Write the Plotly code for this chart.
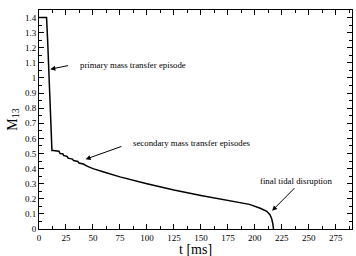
import plotly.graph_objects as go

# ---- data ----
t_ms = [0, 7, 8, 9, 10.5, 12, 13, 18.5, 19.5, 22, 23, 26, 27, 31, 32, 36, 37, 41,
        45, 50, 60, 75, 100, 125, 150, 175, 195, 205, 211, 214, 215.5, 216.5, 217.3]
m13 = [1.4, 1.4, 1.25, 1.05, 0.72, 0.52, 0.52, 0.515, 0.50, 0.498, 0.486, 0.481,
       0.469, 0.463, 0.453, 0.447, 0.437, 0.43, 0.415, 0.40, 0.377, 0.345, 0.30,
       0.258, 0.222, 0.192, 0.163, 0.137, 0.117, 0.095, 0.07, 0.04, 0.0]

x_ticks = [0, 25, 50, 75, 100, 125, 150, 175, 200, 225, 250, 275]
y_ticks = [0, 0.1, 0.2, 0.3, 0.4, 0.5, 0.6, 0.7, 0.8, 0.9, 1.0, 1.1, 1.2, 1.3, 1.4]
y_tick_text = ["0", "0.1", "0.2", "0.3", "0.4", "0.5", "0.6", "0.7", "0.8", "0.9",
               "1", "1.1", "1.2", "1.3", "1.4"]

x_title = "t [ms]"
y_title = "M<sub>13</sub>"

notes = ["primary mass transfer episode", "secondary mass transfer episodes",
         "final tidal disruption"]
note_pos = [(36, 1.086), (85.5, 0.568), (202.5, 0.32)]
arrow_head = [(10.5, 1.058), (43.2, 0.462), (216, 0.121)]
arrow_tail = [(28.4, 1.084), (77.7, 0.55), (238, 0.28)]

SERIF = "Liberation Serif, Times New Roman, serif"

fig = go.Figure()
fig.add_trace(go.Scatter(x=t_ms, y=m13, mode="lines",
                         line=dict(color="black", width=1.5),
                         showlegend=False, hoverinfo="skip"))

ann = []
for txt, (tx, ty) in zip(notes, note_pos):
    ann.append(dict(x=tx, y=ty, xref="x", yref="y", text=txt, showarrow=False,
                    xanchor="left", yanchor="middle",
                    font=dict(family=SERIF, size=8.8, color="black")))
for (hx, hy), (sx, sy) in zip(arrow_head, arrow_tail):
    ann.append(dict(x=hx, y=hy, xref="x", yref="y", ax=sx, ay=sy,
                    axref="x", ayref="y", text="", showarrow=True,
                    arrowhead=2, arrowsize=1, arrowwidth=1, arrowcolor="black",
                    standoff=0, startstandoff=0))
# x-axis title placed below the tick labels
ann.append(dict(x=0.5, y=-0.094, xref="paper", yref="paper", text=x_title,
                showarrow=False, xanchor="center", yanchor="middle",
                font=dict(family=SERIF, size=14, color="black")))

axis_common = dict(showline=True, linecolor="black", linewidth=1, mirror="allticks",
                   ticks="inside", ticklen=5, tickcolor="black", tickwidth=1,
                   showgrid=False, zeroline=False, automargin=False,
                   tickfont=dict(family=SERIF, size=9, color="black"))

fig.update_layout(
    template="none",
    width=356, height=256,
    margin=dict(l=39, r=4, t=10, b=27),
    paper_bgcolor="white", plot_bgcolor="white",
    font=dict(family=SERIF, color="black"),
    annotations=ann,
    xaxis=dict(range=[0, 290], tickvals=x_ticks,
               minor=dict(ticks="inside", ticklen=3, dtick=12.5, tick0=0,
                          tickcolor="black"),
               **axis_common),
    yaxis=dict(range=[0, 1.45], tickvals=y_ticks, ticktext=y_tick_text,
               title=dict(text=y_title, font=dict(family=SERIF, size=14, color="black"),
                          standoff=4),
               minor=dict(ticks="inside", ticklen=3, dtick=0.05, tick0=0,
                          tickcolor="black"),
               **axis_common),
)

fig.write_html("out.html", config={"displayModeBar": False},
               post_script="document.body.style.margin='0';document.body.style.padding='0';")
